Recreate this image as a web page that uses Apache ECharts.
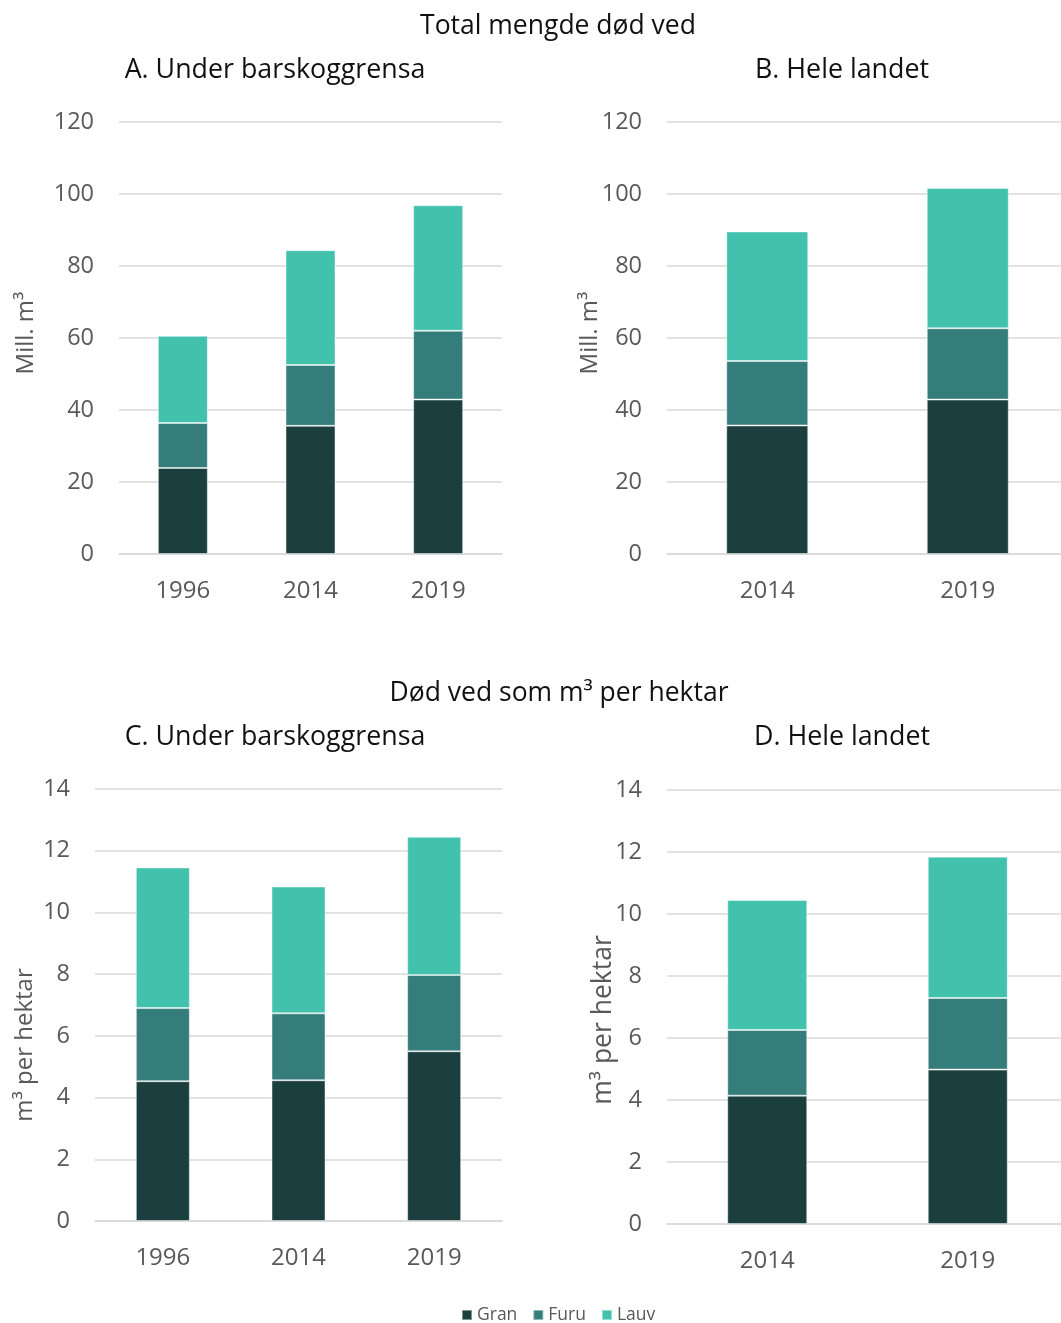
<!DOCTYPE html>
<html>
<head>
<meta charset="utf-8">
<script src="https://cdn.jsdelivr.net/npm/echarts@6/dist/echarts.min.js"></script>
<style>html,body{margin:0;padding:0;background:#fff}#c{width:1061px;height:1323px}</style>
</head>
<body>
<div id="c"></div>
<script>
// Categories
const catsA = ['1996', '2014', '2019'];
const catsB = ['2014', '2019'];
// Panel A: Mill. m3, under barskoggrensa
const granA = [23.9, 35.6, 42.9];
const furuA = [12.5, 16.9, 19.1];
const lauvA = [24.2, 31.9, 34.9];
// Panel B: Mill. m3, hele landet
const granB = [35.7, 42.9];
const furuB = [17.9, 19.8];
const lauvB = [36.0, 39.0];
// Panel C: m3 per hektar, under barskoggrensa
const granC = [4.53, 4.56, 5.50];
const furuC = [2.37, 2.17, 2.47];
const lauvC = [4.56, 4.11, 4.48];
// Panel D: m3 per hektar, hele landet
const granD = [4.14, 4.98];
const furuD = [2.12, 2.31];
const lauvD = [4.19, 4.56];
// Tick settings
const ticksTop = {min: 0, max: 120, interval: 20};
const ticksBottom = {min: 0, max: 14, interval: 2};

const FONT = '"Open Sans", "Noto Sans", sans-serif';
const colors = {Gran: '#1b3f3f', Furu: '#347d7a', Lauv: '#42c2ad'};
const grey = '#595959';
const gridCol = '#d9d9d9';

const chart = echarts.init(document.getElementById('c'), null, {renderer: 'canvas'});

const grids = [
  {left: 119, top: 122, width: 383, height: 432, outerBoundsMode: 'none'},
  {left: 667, top: 122, width: 401, height: 432, outerBoundsMode: 'none'},
  {left: 95, top: 789, width: 407, height: 432, outerBoundsMode: 'none'},
  {left: 667, top: 790, width: 401, height: 434, outerBoundsMode: 'none'}
];
const catList = [catsA, catsB, catsA, catsB];
const xAxes = catList.map((c, i) => ({
  type: 'category', gridIndex: i, data: c,
  axisLine: {show: true, lineStyle: {color: gridCol, width: 1.5}},
  axisTick: {show: false},
  axisLabel: {color: grey, fontSize: 24, fontFamily: FONT, margin: 25}
}));
const yAxes = [ticksTop, ticksTop, ticksBottom, ticksBottom].map((t, i) => ({
  type: 'value', gridIndex: i, min: t.min, max: t.max, interval: t.interval,
  axisLine: {show: false}, axisTick: {show: false},
  splitLine: {lineStyle: {color: gridCol, width: 1.5}},
  axisLabel: {color: grey, fontSize: 23.5, fontFamily: FONT, margin: 25, padding: [3, 0, 0, 0]}
}));

const data = [
  [granA, furuA, lauvA],
  [granB, furuB, lauvB],
  [granC, furuC, lauvC],
  [granD, furuD, lauvD]
];
const barWidths = [50, 82, 54, 80];
const names = ['Gran', 'Furu', 'Lauv'];
const series = [];
data.forEach((set, i) => {
  set.forEach((vals, j) => {
    series.push({
      type: 'bar', name: names[j], stack: 's' + i,
      xAxisIndex: i, yAxisIndex: i, data: vals,
      barWidth: barWidths[i],
      itemStyle: {color: colors[names[j]], borderColor: 'rgba(255,255,255,0.45)', borderWidth: 1},
      emphasis: {disabled: true}
    });
  });
});

function txt(x, y, s, size, color, rot) {
  return {
    type: 'text', x: x, y: y, rotation: rot || 0, silent: true,
    style: {text: s, fontSize: size, fontFamily: FONT, fill: color,
      align: 'center', verticalAlign: 'middle'}
  };
}

chart.setOption({
  animation: false,
  backgroundColor: '#fff',
  grid: grids,
  xAxis: xAxes,
  yAxis: yAxes,
  series: series,
  legend: {
    data: names, top: 1306, left: 461, padding: 0, icon: 'rect',
    itemWidth: 10, itemHeight: 10, itemGap: 15,
    textStyle: {color: grey, fontSize: 17.5, fontFamily: FONT}
  },
  graphic: [
    txt(558, 26, 'Total mengde død ved', 26.5, '#111'),
    txt(275, 70, 'A. Under barskoggrensa', 26.8, '#111'),
    txt(842, 70, 'B. Hele landet', 26.8, '#111'),
    txt(559, 693, 'Død ved som m³ per hektar', 26.5, '#111'),
    txt(275, 737, 'C. Under barskoggrensa', 26.8, '#111'),
    txt(842, 737, 'D. Hele landet', 26.8, '#111'),
    txt(26, 333, 'Mill. m³', 24, grey, Math.PI / 2),
    txt(590, 333, 'Mill. m³', 24, grey, Math.PI / 2),
    txt(25, 1045, 'm³ per hektar', 24, grey, Math.PI / 2),
    txt(603, 1020, 'm³ per hektar', 26.5, grey, Math.PI / 2)
  ]
});
</script>
</body>
</html>
